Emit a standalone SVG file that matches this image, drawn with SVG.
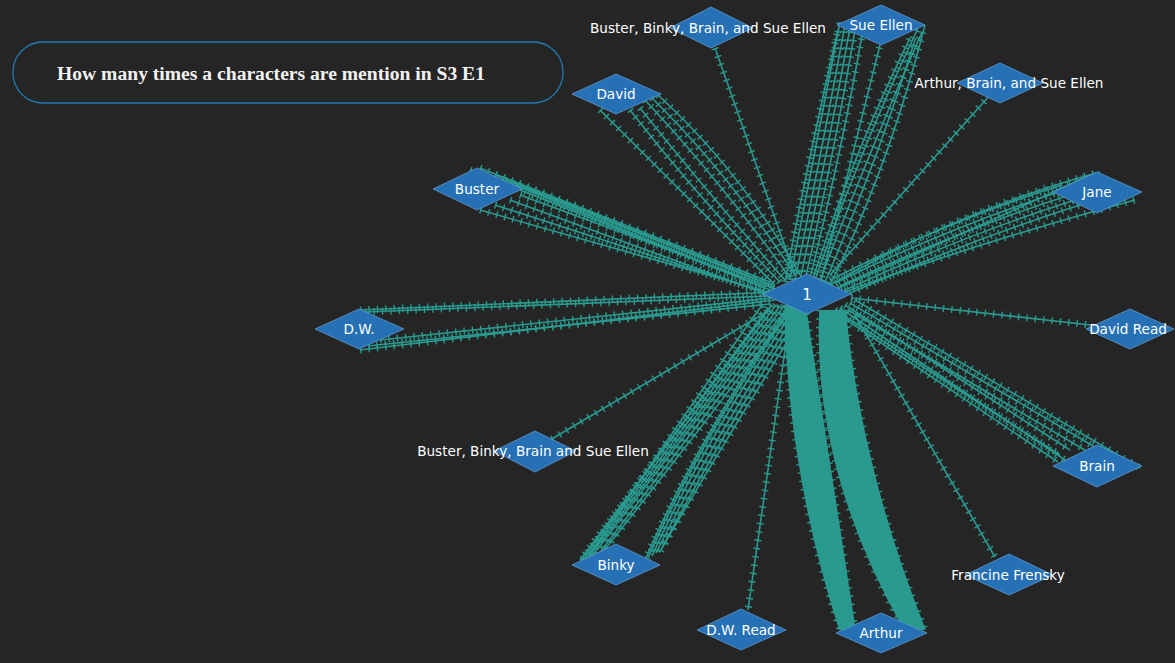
<svg xmlns="http://www.w3.org/2000/svg" xmlns:xlink="http://www.w3.org/1999/xlink" width="1175" height="663" viewBox="0 0 1175 663">
<style>
.bg{fill:#252525}
.title-box{fill:none;stroke:#1f7bb0;stroke-width:1.3}
.title{font-family:"Liberation Serif","Times New Roman",serif;font-weight:bold;font-size:19.6px;fill:#f2f2f2}
.node{fill:#2670b5;stroke:#5e9bd0;stroke-width:0.8}
.lbl{font-family:"DejaVu Sans","Open Sans",sans-serif;font-size:13.6px;fill:#ffffff;text-anchor:middle}
.line{fill:none;stroke:#2a9a8f;stroke-width:1.6}
.ticks{fill:none;stroke:#2a9a8f;stroke-width:7;stroke-dasharray:1.4 7}
.band{fill:#2a9a8f;stroke:none}
</style>
<defs>
<g id="edge-paths">
<!-- Sue Ellen -->
<path d="M790,280 Q815,150 840,22"/>
<path d="M795,280 Q822,150 845,25"/>
<path d="M800,280 Q828,150 850,28"/>
<path d="M805,280 Q835,150 855,30"/>
<path d="M785,282 Q808,160 838,30"/>
<path d="M810,278 Q842,150 862,35"/>
<path d="M815,280 Q860,150 918,28"/>
<path d="M820,280 Q870,150 922,32"/>
<path d="M825,282 Q878,160 915,40"/>
<path d="M812,282 Q850,160 910,38"/>
<path d="M830,285 Q888,170 925,25"/>
<path d="M820,285 L880,45"/>
<!-- David -->
<path d="M645,100 Q720,180 790,278"/>
<path d="M652,98 Q730,175 795,275"/>
<path d="M640,108 Q705,190 785,280"/>
<path d="M658,95 Q740,170 800,275"/>
<path d="M630,110 Q700,200 780,282"/>
<path d="M600,110 Q690,200 775,285"/>
<!-- Buster -->
<path d="M480,168 L770,282"/>
<path d="M495,175 L772,285"/>
<path d="M505,180 L775,287"/>
<path d="M515,185 L770,290"/>
<path d="M480,210 L768,292"/>
<path d="M495,205 L770,294"/>
<path d="M510,200 L772,296"/>
<path d="M520,195 L775,289"/>
<path d="M470,170 L765,288"/>
<!-- D.W. -->
<path d="M360,310 L775,292"/>
<path d="M365,312 L770,296"/>
<path d="M360,350 L775,300"/>
<path d="M368,346 L770,304"/>
<path d="M380,340 L772,298"/>
<!-- Jane -->
<path d="M830,280 Q950,220 1062,185"/>
<path d="M835,283 Q955,225 1065,190"/>
<path d="M840,286 Q960,230 1070,195"/>
<path d="M845,290 Q965,235 1075,200"/>
<path d="M850,293 Q970,240 1080,205"/>
<path d="M838,288 Q950,240 1090,175"/>
<path d="M845,292 Q970,245 1135,200"/>
<path d="M830,285 Q960,210 1100,172"/>
<!-- David Read -->
<path d="M851,298 L1090,325"/>
<!-- Brain -->
<path d="M835,310 L1060,455"/>
<path d="M840,308 L1065,460"/>
<path d="M845,305 L1070,450"/>
<path d="M850,303 L1100,450"/>
<path d="M838,314 L1058,462"/>
<path d="M848,310 L1105,462"/>
<path d="M855,300 L1140,468"/>
<!-- Francine Frensky -->
<path d="M855,315 L995,557"/>
<!-- Arthur left band -->
<path d="M785,305 Q788,470 840,630"/>
<path d="M787,305 Q792,470 841.5,630"/>
<path d="M789,305 Q796,470 843,630"/>
<path d="M791,305 Q801,470 844.5,630"/>
<path d="M793,305 Q805,470 846,630"/>
<path d="M795,305 Q809,470 847.5,630"/>
<path d="M797,305 Q813,470 849,630"/>
<path d="M799,305 Q817,470 850.5,630"/>
<path d="M801,305 Q822,470 852,630"/>
<path d="M803,305 Q826,470 853.5,630"/>
<path d="M805,305 Q830,470 855,630"/>
<!-- Arthur right band -->
<path d="M820,310 Q813,470 905,630"/>
<path d="M822.5,310 Q818,470 907,630"/>
<path d="M825,310 Q823,470 909,630"/>
<path d="M827.5,310 Q827,470 911,630"/>
<path d="M830,310 Q832,470 913,630"/>
<path d="M832.5,310 Q837,470 915,630"/>
<path d="M835,310 Q842,470 917,630"/>
<path d="M837.5,310 Q846,470 919,630"/>
<path d="M840,310 Q851,470 921,630"/>
<path d="M842.5,310 Q856,470 923,630"/>
<path d="M845,310 Q861,470 925,630"/>
<path d="M835,318 L900,620"/>
<!-- D.W. Read -->
<path d="M790,315 L748,610"/>
<!-- Binky -->
<path d="M772,305 L580,560"/>
<path d="M776,305 L584,560"/>
<path d="M780,306 L588,558"/>
<path d="M784,306 L592,556"/>
<path d="M788,307 L598,555"/>
<path d="M768,308 L578,565"/>
<path d="M792,308 Q700,430 602,553"/>
<path d="M762,305 Q680,420 590,555"/>
<path d="M790,310 Q700,440 648,558"/>
<path d="M794,310 Q705,440 652,556"/>
<path d="M798,311 Q712,440 656,553"/>
<path d="M802,311 Q718,440 660,552"/>
<path d="M786,312 Q695,445 645,560"/>
<path d="M806,312 Q725,440 662,548"/>
<!-- Buster, Binky, Brain and Sue Ellen -->
<path d="M770,310 L550,440"/>
<!-- Buster, Binky, Brain, and Sue Ellen -->
<path d="M715,48 L795,275"/>
<!-- Arthur, Brain, and Sue Ellen -->
<path d="M990,95 L830,275"/>
</g>
</defs>
<rect class="bg" x="0" y="0" width="1175" height="663"/>
<g id="title">
<rect class="title-box" x="13" y="42" width="550" height="61" rx="30" ry="30"/>
<text class="title" x="271" y="80" text-anchor="middle">How many times a characters are mention in S3 E1</text>
</g>
<g id="connectors">
<path class="band" d="M785,305 Q788,470 840,630 L855,630 Q830,470 805,305 Z"/>
<path class="band" d="M820,310 Q813,470 905,630 L925,630 Q861,470 845,310 Z"/>
<use xlink:href="#edge-paths" href="#edge-paths" class="line"/>
<use xlink:href="#edge-paths" href="#edge-paths" class="ticks"/>
</g>
<g id="node-1"><polygon class="node" points="763,294 807,274 851,294 807,314"/><text class="lbl" x="807" y="300" style="font-size:15px">1</text></g>
<g id="node-bbbse-top"><polygon class="node" points="670,28 711,7 753,28 711,48"/><text class="lbl" x="708" y="33">Buster, Binky, Brain, and Sue Ellen</text></g>
<g id="node-sue-ellen"><polygon class="node" points="837,25 881,5 925,25 881,45"/><text class="lbl" x="881" y="30">Sue Ellen</text></g>
<g id="node-abse"><polygon class="node" points="957,83 1000,63 1043,83 1000,103"/><text class="lbl" x="1009" y="88">Arthur, Brain, and Sue Ellen</text></g>
<g id="node-david"><polygon class="node" points="572,94 616,74 661,94 616,114"/><text class="lbl" x="616" y="99">David</text></g>
<g id="node-buster"><polygon class="node" points="433,189 477,168 522,189 477,210"/><text class="lbl" x="477" y="194">Buster</text></g>
<g id="node-jane"><polygon class="node" points="1053,192 1097,172 1142,192 1097,213"/><text class="lbl" x="1097" y="197">Jane</text></g>
<g id="node-dw"><polygon class="node" points="315,329 359,309 404,329 359,349"/><text class="lbl" x="359" y="334">D.W.</text></g>
<g id="node-david-read"><polygon class="node" points="1086,329 1130,309 1174,329 1130,349"/><text class="lbl" x="1128" y="334">David Read</text></g>
<g id="node-bbbse-bottom"><polygon class="node" points="494,451 535,431 576,451 535,472"/><text class="lbl" x="533" y="456">Buster, Binky, Brain and Sue Ellen</text></g>
<g id="node-brain"><polygon class="node" points="1053,466 1097,445 1142,466 1097,487"/><text class="lbl" x="1097" y="471">Brain</text></g>
<g id="node-binky"><polygon class="node" points="572,565 616,544 660,565 616,585"/><text class="lbl" x="616" y="570">Binky</text></g>
<g id="node-dw-read"><polygon class="node" points="697,630 741,609 786,630 741,650"/><text class="lbl" x="741" y="635">D.W. Read</text></g>
<g id="node-francine"><polygon class="node" points="965,575 1009,554 1053,575 1009,595"/><text class="lbl" x="1008" y="580">Francine Frensky</text></g>
<g id="node-arthur"><polygon class="node" points="836,633 881,613 927,633 881,653"/><text class="lbl" x="881" y="638">Arthur</text></g>
</svg>
